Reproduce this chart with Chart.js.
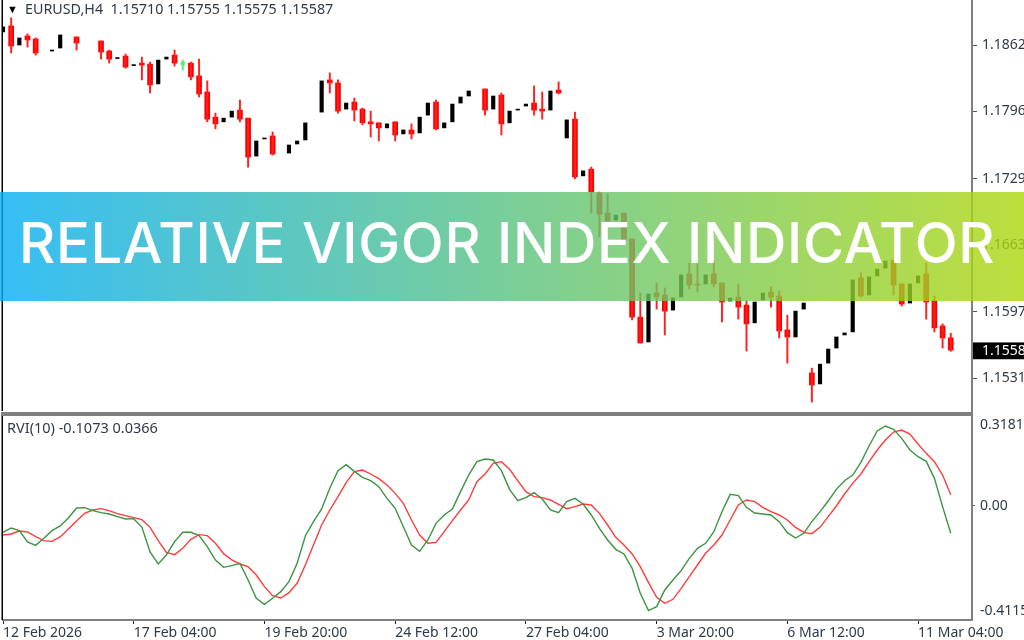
<!DOCTYPE html>
<html>
<head>
<meta charset="utf-8">
<title>Relative Vigor Index Indicator</title>
<script src="https://cdn.jsdelivr.net/npm/chart.js@4"></script>
<style>
html,body{margin:0;padding:0;background:#fff;overflow:hidden}
#stage{position:relative;width:1024px;height:640px;overflow:hidden;background:#fff}
canvas{position:absolute;left:0;display:block}
#priceChart{top:0}
#rviChart{top:412px}
.legend{position:absolute;font:14.5px "Noto Sans",sans-serif;color:#2d3a48;white-space:pre;line-height:18px}
#banner{position:absolute;left:0;top:192px;width:1024px;height:109px;background:linear-gradient(90deg,rgba(4,174,243,.8),rgba(174,214,11,.8));color:#fff}
#banner span{position:absolute;left:19px;top:0;font:500 56px Inter,sans-serif;line-height:103px;letter-spacing:.68px;white-space:nowrap}
</style>
</head>
<body>
<div id="stage">
<canvas id="priceChart" width="1024" height="412"></canvas>
<canvas id="rviChart" width="1024" height="228"></canvas>
<div class="legend" style="left:7px;top:0;color:#000;font-size:11px">▼</div>
<div class="legend" id="priceLegend" style="left:25px;top:0;font-size:14.3px"></div>
<div class="legend" id="rviLegend" style="left:7px;top:418px"></div>
<div id="banner"><span>RELATIVE VIGOR INDEX INDICATOR</span></div>
</div>
<script>
const symbolText = "EURUSD,H4  1.15710 1.15755 1.15575 1.15587";
const rviText = "RVI(10) -0.1073 0.0366";

const openPrices = [
1.1875,1.1881,1.1862,1.1871,1.1868,null,1.1856,1.1859,null,1.1870,
null,null,1.1866,1.1856,1.18485,1.1851,1.18415,1.1844,1.1843,1.18233,
1.1848,1.1852,1.1842,1.1844,1.18313,1.18153,1.17903,1.17856,1.17903,1.17973,
1.17893,1.17516,1.17686,1.17716,null,1.17546,1.17636,1.17676,null,1.17953,
1.18273,1.18243,1.17983,1.18053,1.17983,1.17856,1.17846,1.17796,1.17856,1.17736,
1.17776,1.17746,1.17923,1.18053,1.17796,1.17856,1.18043,1.18113,null,1.18183,
1.17983,1.18123,1.17846,1.17973,1.18013,1.18043,1.17983,1.17973,1.18173,1.17696,
1.17883,1.17319,1.17386,1.17149,1.16949,1.16879,1.16949,1.16692,1.15915,1.15668,
1.16155,1.16135,1.15985,1.16115,1.16345,1.16245,1.16245,1.16345,1.16255,1.16075,
1.16115,1.16035,1.15858,1.16085,1.16165,1.16125,1.15788,1.15718,1.15995,1.15361,
1.15251,1.15458,1.15608,1.15738,1.15768,1.16305,1.16135,1.16325,1.16402,1.16482,
1.16245,1.16055,1.16255,1.16345,1.16075,1.15828,1.1571];
const closePrices = [
1.1880,1.1861,1.1869,1.1867,1.1854,null,1.1857,1.1872,null,1.1864,
null,null,1.1855,1.1848,1.18495,1.1840,1.18425,1.1842,1.18223,1.1847,
1.1850,1.1844,1.1845,1.18303,1.18133,1.17883,1.17836,1.17893,1.17963,1.17883,
1.17506,1.17666,1.17696,1.17536,null,1.17626,1.17666,1.17846,null,1.18263,
1.18243,1.17963,1.18043,1.17973,1.17846,1.17836,1.17796,1.17836,1.17726,1.17776,
1.17736,1.17903,1.18043,1.17786,1.17846,1.18033,1.18103,1.18163,null,1.17973,
1.18113,1.17836,1.17963,1.17983,1.18033,1.17973,1.17963,1.18163,1.18143,1.17876,
1.17309,1.17369,1.17159,1.16939,1.16872,1.16929,1.16682,1.15915,1.15658,1.16145,
1.16115,1.15975,1.16105,1.16335,1.16235,1.16235,1.16335,1.16245,1.16065,1.16105,
1.16015,1.15848,1.16065,1.16155,1.16115,1.15778,1.15718,1.15975,1.16055,1.15241,
1.15448,1.15598,1.15718,1.15758,1.16285,1.16125,1.16315,1.16392,1.16472,1.16235,
1.16045,1.16245,1.16325,1.16065,1.15808,1.15708,1.15587];
const highPrices = [
null,1.1889,null,1.1873,1.1869,null,null,null,null,1.1870,
null,null,1.1866,1.1857,null,1.1853,null,1.1850,1.1845,null,
null,1.1857,1.1847,1.1845,1.1848,1.18263,1.17943,null,null,1.18073,
1.17893,null,null,1.17756,null,null,null,null,null,null,
1.18343,1.18273,null,1.18093,1.17993,1.17963,1.17846,null,1.17856,null,
1.17836,null,null,1.18073,null,null,null,null,null,1.18183,
null,1.18143,null,null,null,1.18213,1.18153,null,1.18253,null,
1.17953,null,1.17406,1.17159,1.17139,null,1.16949,1.16692,1.16155,null,
1.16255,1.16205,null,null,1.16452,1.16452,null,1.16472,1.16255,null,
1.16245,1.16075,null,null,1.16215,1.16175,1.15935,null,null,1.15408,
null,null,null,null,null,1.16355,null,null,null,1.16482,
1.16245,null,null,1.16452,1.16125,1.15848,1.15755];
const lowPrices = [
null,1.1854,null,1.1860,1.1852,null,null,null,null,1.1857,
null,null,1.1848,1.1844,null,1.1839,null,1.18273,1.18143,null,
null,1.1841,1.1837,1.18273,1.18103,1.17856,1.17786,null,null,1.17856,
1.17406,null,null,1.17526,null,null,null,null,null,null,
1.18143,1.17943,null,1.17866,1.17826,1.17706,1.17666,null,1.17666,null,
1.17686,null,null,1.17776,null,null,null,null,null,1.17923,
null,1.17726,null,null,null,1.17923,1.17883,null,1.18133,null,
1.17289,null,1.16949,1.16712,1.16852,null,1.16682,1.15888,1.15658,null,
1.15995,1.15738,null,null,1.16195,1.16165,null,1.16215,1.15868,null,
1.15895,1.15578,null,null,1.16015,1.15708,1.15458,null,null,1.15071,
null,null,null,null,null,1.16115,null,null,null,1.16135,
1.16025,null,null,1.15895,1.15768,1.15608,1.15575];
const greenBars = [22];

const rviMain = [
-0.1034,-0.0864,-0.0969,-0.1414,-0.1545,-0.1270,-0.0969,-0.0785,-0.0471,-0.0079,
-0.0065,-0.0183,-0.0262,-0.0314,-0.0419,-0.0511,-0.0497,-0.0838,-0.1806,-0.2278,
-0.1924,-0.1401,-0.1034,-0.1034,-0.1165,-0.1597,-0.2121,-0.2409,-0.2343,-0.2252,
-0.2906,-0.3626,-0.3862,-0.3626,-0.3364,-0.2971,-0.2252,-0.1178,-0.0615,-0.0118,
0.0694,0.1388,0.1623,0.1361,0.1126,0.0995,0.0759,0.0301,-0.0092,-0.0812,
-0.1532,-0.1780,-0.1335,-0.0681,-0.0353,-0.0118,0.0563,0.1217,0.1741,0.1846,
0.1806,0.1388,0.0655,0.0209,0.0327,0.0524,0.0275,-0.0157,-0.0262,0.0170,
0.0301,0.0079,-0.0353,-0.0877,-0.1335,-0.1702,-0.1885,-0.2448,-0.3430,-0.4110,
-0.3953,-0.3299,-0.2906,-0.2539,-0.2055,-0.1662,-0.1466,-0.1008,-0.0223,0.0458,
0.0406,-0.0052,-0.0275,-0.0314,-0.0353,-0.0615,-0.1047,-0.1257,-0.1073,-0.0615,
-0.0223,0.0196,0.0655,0.0995,0.1217,0.1715,0.2356,0.2945,0.3142,0.3011,
0.2657,0.2199,0.1937,0.1754,0.1086,-0.0026,-0.1073];
const rviSignal = [
-0.1139,-0.1100,-0.0982,-0.1021,-0.1204,-0.1361,-0.1388,-0.1217,-0.0903,-0.0589,
-0.0288,-0.0157,-0.0105,-0.0183,-0.0301,-0.0380,-0.0458,-0.0537,-0.0838,-0.1361,
-0.1820,-0.1911,-0.1662,-0.1309,-0.1126,-0.1165,-0.1466,-0.1872,-0.2121,-0.2278,
-0.2382,-0.2710,-0.3168,-0.3521,-0.3613,-0.3403,-0.3037,-0.2317,-0.1532,-0.0746,
-0.0157,0.0367,0.0916,0.1348,0.1414,0.1257,0.1073,0.0825,0.0497,0.0105,
-0.0550,-0.1139,-0.1466,-0.1427,-0.1008,-0.0576,-0.0157,0.0236,0.0956,0.1257,
0.1676,0.1741,0.1440,0.0995,0.0563,0.0367,0.0327,0.0236,0.0065,-0.0105,
-0.0026,0.0079,0.0039,-0.0288,-0.0746,-0.1230,-0.1532,-0.1885,-0.2382,-0.2998,
-0.3587,-0.3822,-0.3665,-0.3233,-0.2775,-0.2317,-0.1859,-0.1532,-0.1139,-0.0550,
0.0039,0.0236,0.0170,-0.0052,-0.0223,-0.0353,-0.0550,-0.0838,-0.1034,-0.1086,
-0.0838,-0.0419,0,0.0471,0.0890,0.1257,0.1741,0.2199,0.2592,0.2906,
0.2985,0.2827,0.2435,0.2068,0.1741,0.1217,0.0445];

const timeTickBars = [0,16,32,48,64,80,96,112];
const timeTickLabels = ["12 Feb 2026","17 Feb 04:00","19 Feb 20:00","24 Feb 12:00","27 Feb 04:00","3 Mar 20:00","6 Mar 12:00","11 Mar 04:00"];
const priceTicks = [1.1862,1.1796,1.1729,1.1663,1.1597,1.1558,1.1531];
const lastPrice = 1.1558;
const rviTicks = [0.3181,0,-0.4115];
const rviTickLabels = ["0.3181","0.00","-0.4115"];

document.getElementById('priceLegend').textContent = symbolText;
document.getElementById('rviLegend').textContent = rviText;

const barIndex = openPrices.map((_, i) => i);
const axisFont = {family:'"Noto Sans",sans-serif', size:14};
const textColor = '#2d3a48';
const xMax = 118.6;

function isGreen(i){ return greenBars.includes(i); }
function isUp(i){ return closePrices[i] > openPrices[i]; }
function bodies(test){
  return barIndex.map(i => (openPrices[i] !== null && test(i)) ? [openPrices[i], closePrices[i]] : null);
}
function wicks(test){
  return barIndex.map(i => (highPrices[i] !== null && test(i)) ? [lowPrices[i], highPrices[i]] : null);
}
function fixYAxis(s){ s.width = 52; s.paddingTop = 0; s.paddingBottom = 0; }
function fixXAxis(s){ s.height = s.options.display ? 20 : 0; s.paddingLeft = 0; s.paddingRight = 0; }
const frame = {
  id:'frame',
  beforeDatasetsDraw(chart){
    const c = chart.ctx;
    c.save();
    c.fillStyle = '#000';
    c.fillRect(1.5, 0, 1.5, chart.chartArea.bottom);
    c.restore();
  }
};
const commonX = {type:'linear', min:0, max:xMax, offset:false, afterFit:fixXAxis};

new Chart(document.getElementById('priceChart'), {
  type:'bar',
  plugins:[frame],
  data:{
    labels:barIndex,
    datasets:[
      {label:'Wick down', data:wicks(i => !isGreen(i)), backgroundColor:'#ff2020', barThickness:1.3},
      {label:'Wick doji', data:wicks(i => isGreen(i)), backgroundColor:'#55ee77', barThickness:1.3},
      {label:'Bear body', data:bodies(i => !isUp(i) && !isGreen(i)), backgroundColor:'#ff0000', barThickness:5},
      {label:'Bull body', data:bodies(i => isUp(i) && !isGreen(i)), backgroundColor:'#000000', barThickness:3.5},
      {label:'Marked body', data:bodies(isGreen), backgroundColor:'#55ee77', barThickness:3.5}
    ]
  },
  options:{
    responsive:false, animation:false, devicePixelRatio:1,
    layout:{autoPadding:false,padding:{left:3,right:0,top:0,bottom:1}},
    plugins:{legend:{display:false},tooltip:{enabled:false}},
    datasets:{bar:{grouped:false}},
    scales:{
      x:{...commonX, display:false},
      y:{
        position:'right', min:1.14982, max:1.190673,
        afterFit:fixYAxis,
        afterBuildTicks(s){s.ticks = priceTicks.map(v => ({value:v}));},
        border:{display:true,color:'#808080',width:2},
        grid:{drawOnChartArea:false,drawTicks:true,tickLength:5,tickColor:'#555'},
        ticks:{
          font:axisFont, padding:5, autoSkip:false,
          color:ctx => ctx.tick.value === lastPrice ? '#fff' : textColor,
          callback:v => v.toFixed(4),
          showLabelBackdrop:ctx => ctx.tick.value === lastPrice,
          backdropColor:'#000',
          backdropPadding:{top:0,bottom:0,left:9,right:9}
        }
      }
    }
  }
});

new Chart(document.getElementById('rviChart'), {
  type:'line',
  plugins:[frame,{
    id:'separator',
    afterDraw(chart){
      const c = chart.ctx;
      c.save();
      c.fillStyle='#808080';
      c.fillRect(2, 0, 971, 4);
      c.restore();
    }
  }],
  data:{
    labels:barIndex,
    datasets:[
      {label:'RVI', data:rviMain, borderColor:'#3c9440', borderWidth:1.4, pointRadius:0, tension:0},
      {label:'Signal', data:rviSignal, borderColor:'#ff3c3c', borderWidth:1.4, pointRadius:0, tension:0}
    ]
  },
  options:{
    responsive:false, animation:false, devicePixelRatio:1,
    layout:{autoPadding:false,padding:{left:3,right:0,top:4,bottom:0}},
    plugins:{legend:{display:false},tooltip:{enabled:false}},
    scales:{
      x:{
        ...commonX,
        afterBuildTicks(s){s.ticks = timeTickBars.map(v => ({value:v}));},
        border:{display:true,color:'#808080',width:2},
        grid:{drawOnChartArea:false,tickLength:4,tickColor:'#222'},
        ticks:{
          font:axisFont,color:textColor,padding:1,align:'start',autoSkip:false,maxRotation:0,
          callback:v => timeTickLabels[timeTickBars.indexOf(v)]
        }
      },
      y:{
        position:'right', min:-0.4478, max:0.3535,
        afterFit:fixYAxis,
        afterBuildTicks(s){s.ticks = rviTicks.map(v => ({value:v}));},
        border:{display:true,color:'#808080',width:2},
        grid:{drawOnChartArea:false,tickLength:3,tickColor:ctx => ctx.tick && ctx.tick.value === 0 ? '#555' : 'rgba(0,0,0,0)'},
        ticks:{
          font:axisFont,color:textColor,padding:5,autoSkip:false,
          callback:v => rviTickLabels[rviTicks.indexOf(v)]
        }
      }
    }
  }
});
</script>
</body>
</html>
